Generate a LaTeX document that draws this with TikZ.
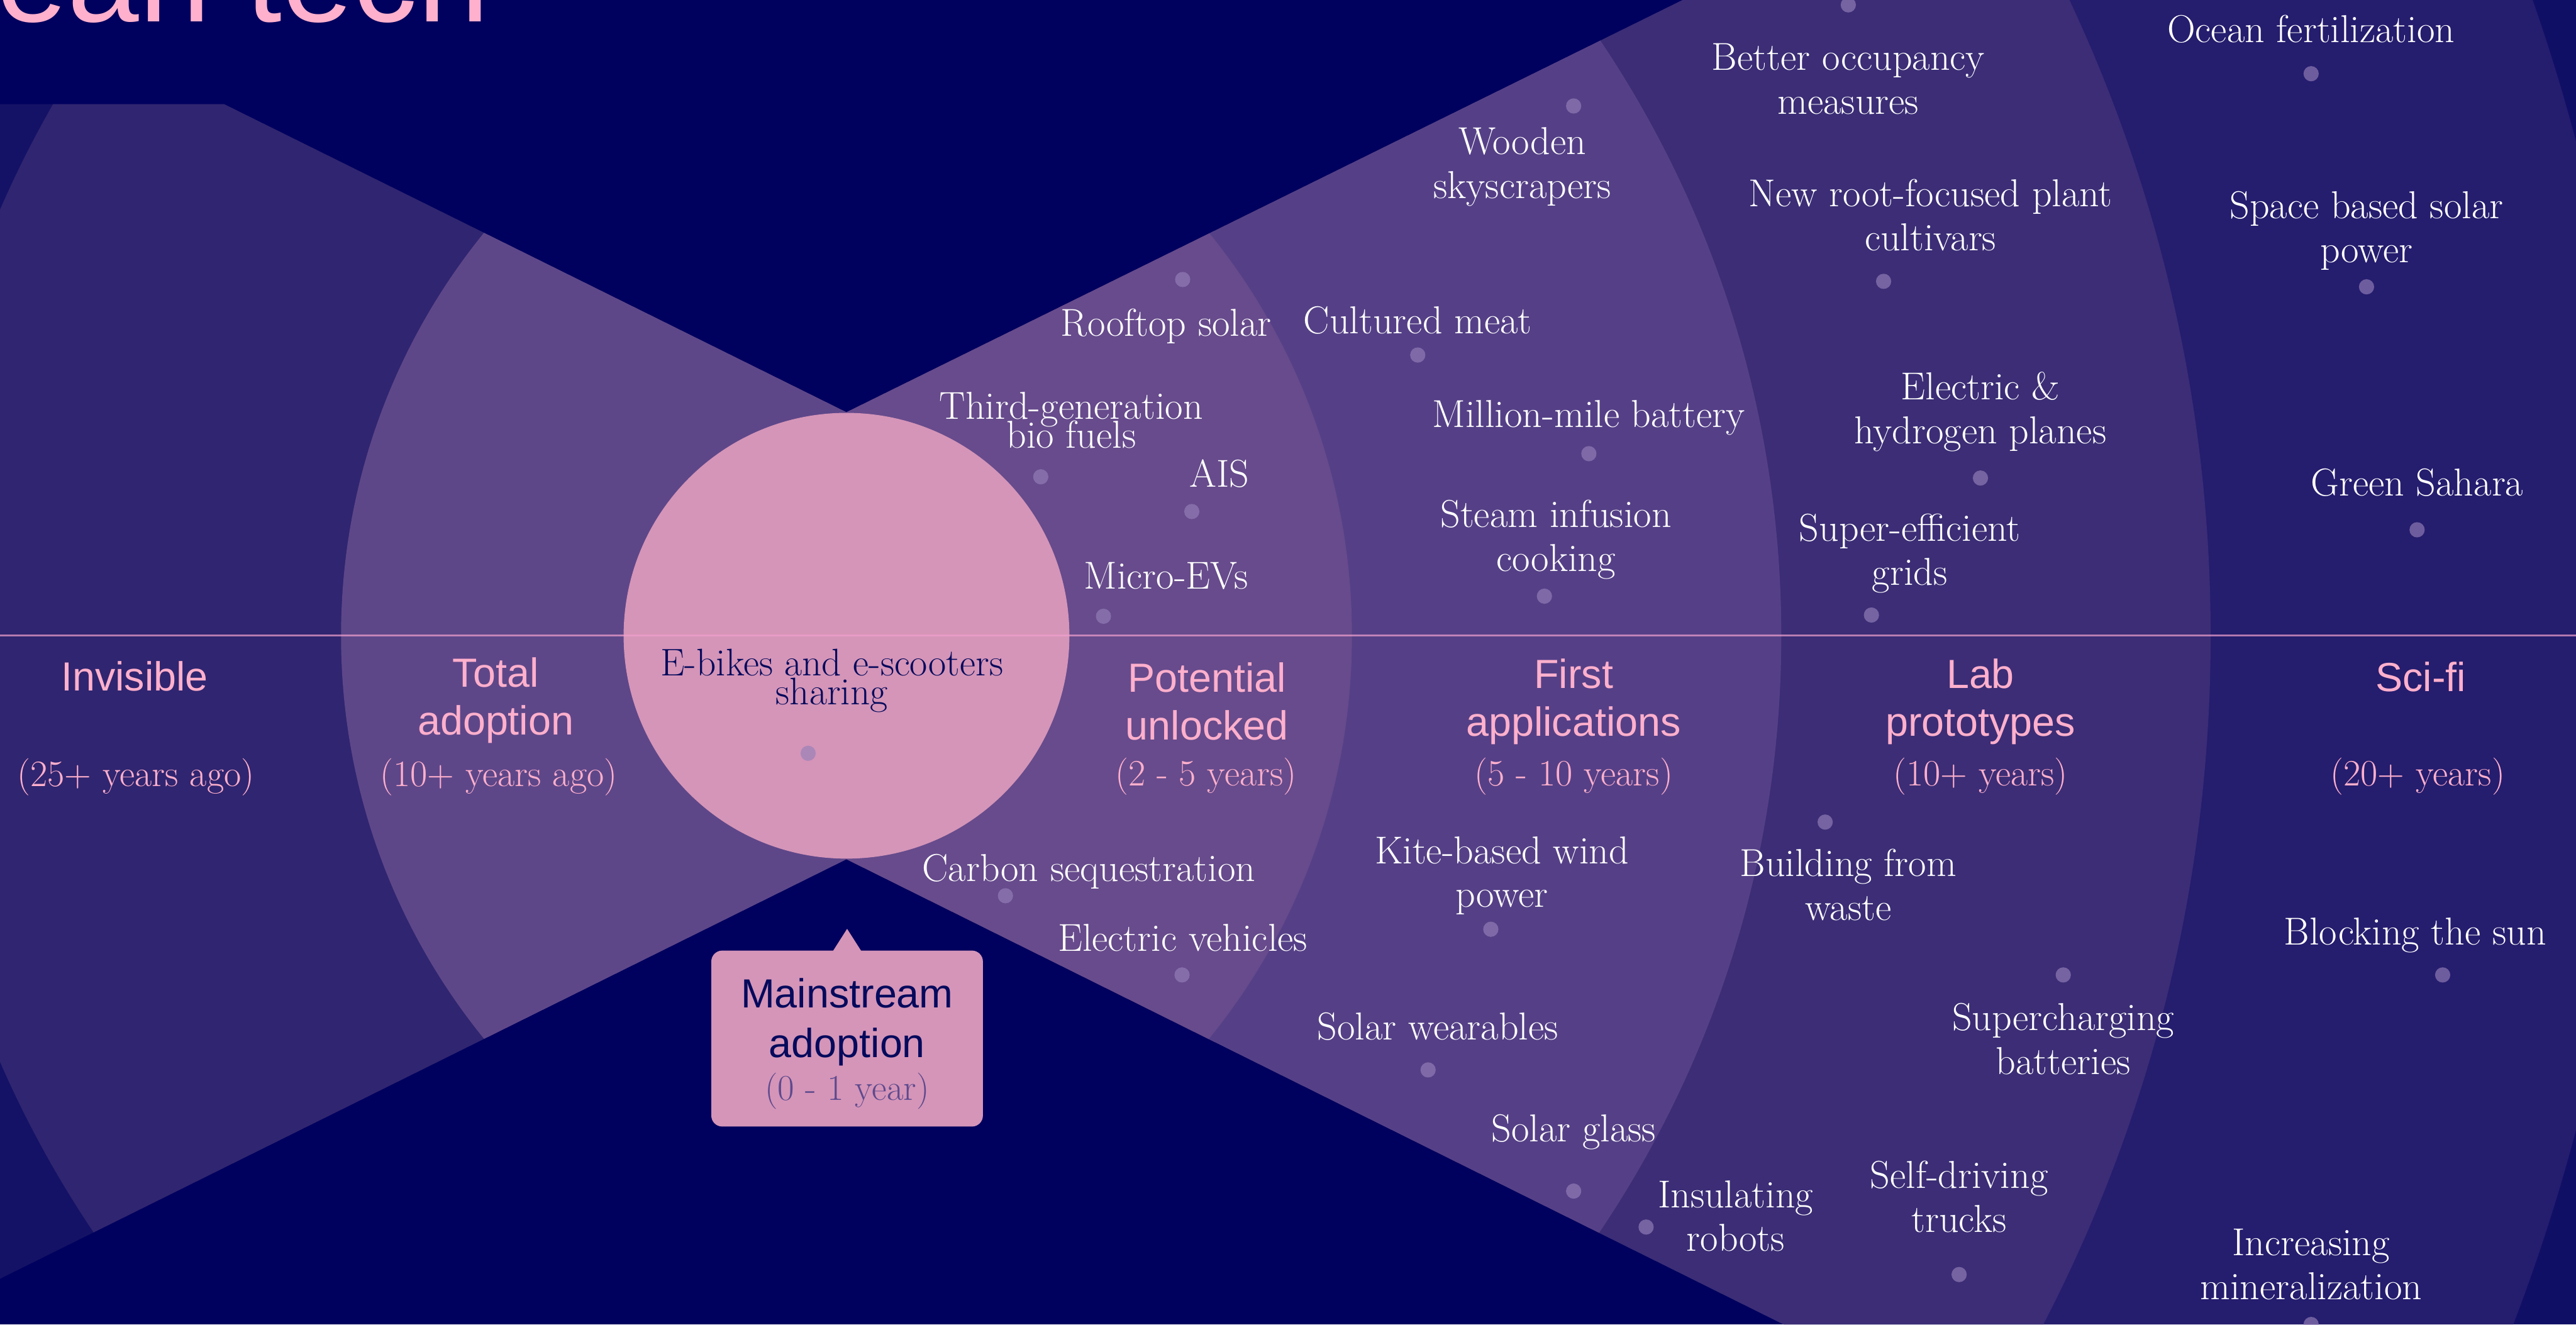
\documentclass[tikz,border=0pt]{standalone}
\usepackage{fontspec}
\setsansfont{Liberation Sans}

\definecolor{deepnavy}{RGB}{0,0,94}
\definecolor{farright}{RGB}{16,15,102}
\definecolor{ringfour}{RGB}{37,29,110}
\definecolor{ringthree}{RGB}{60,45,118}
\definecolor{ringtwo}{RGB}{85,64,135}
\definecolor{ringone}{RGB}{103,75,140}
\definecolor{leftone}{RGB}{94,71,137}
\definecolor{lefttwo}{RGB}{48,37,112}
\definecolor{farleft}{RGB}{20,18,102}
\definecolor{petal}{RGB}{213,149,184}
\definecolor{blush}{RGB}{255,176,204}
\definecolor{ink}{RGB}{5,10,92}
\definecolor{dotlav}{RGB}{150,128,185}
\definecolor{plum}{RGB}{94,74,142}
\definecolor{axispink}{RGB}{240,160,205}

\newcommand{\techfont}{\fontsize{18.2}{20.5}\selectfont\addfontfeatures{FakeBold=0.4}}
\newcommand{\tightfont}{\fontsize{18.2}{13.5}\selectfont\addfontfeatures{FakeBold=0.4}\lineskiplimit=-100pt}
\newcommand{\hubfont}{\fontsize{18}{13.6}\selectfont\addfontfeatures{FakeBold=0.4}\lineskiplimit=-100pt}
\newcommand{\stagefont}{\fontsize{19}{22.4}\sffamily\selectfont}
\newcommand{\calloutfont}{\fontsize{19}{23.3}\sffamily\selectfont}
\newcommand{\horizonfont}{\fontsize{17.4}{20}\rmfamily\selectfont\addfontfeatures{FakeBold=0.4}}
\newcommand{\cornerfont}{\fontsize{17}{19}\rmfamily\selectfont\addfontfeatures{FakeBold=0.4}}
\newcommand{\headfont}{\fontsize{60}{70}\sffamily\selectfont}

\begin{document}
\begin{tikzpicture}[y=-1cm]
	\tikzstyle{tech}=[text=white, font=\techfont, align=center, inner sep=0pt]
	\tikzstyle{techtight}=[tech, font=\tightfont]
	\tikzstyle{techdot}=[circle, fill=dotlav, fill opacity=0.65, minimum size=2.5mm, inner sep=0pt]
	\tikzstyle{stage}=[text=blush, font=\stagefont, align=center, inner sep=0pt]
	\tikzstyle{horizon}=[text=blush, font=\horizonfont, inner sep=0pt]
	\tikzstyle{callout}=[fill=petal, rounded corners=1.8mm, minimum width=44.6mm, minimum height=28.9mm, text=ink, font=\calloutfont, align=center, inner sep=0pt]
	\useasboundingbox (0,0) rectangle (42.30,21.75);
	\fill[deepnavy] (0,0) rectangle (42.30,21.75);
	% funnel with the rings
	\begin{scope}
		\clip (0,1.71) -- (3.68,1.71) -- (13.90,6.77) -- (27.63,0) -- (42.30,0) -- (42.30,21.75) -- (29.29,21.75) -- (13.90,14.11) -- (0,21.00) -- cycle;
		\begin{scope}
			\clip (13.90,0) rectangle (42.30,21.75);
			\fill[farright] (13.90,0) rectangle (42.30,21.75);
			\fill[ringfour] (11.70,10.44) circle (31.65);
			\fill[ringthree] (11.70,10.44) circle (24.60);
			\fill[ringtwo] (11.70,10.44) circle (17.55);
			\fill[ringone] (11.70,10.44) circle (10.50);
		\end{scope}
		\begin{scope}
			\clip (0,0) rectangle (13.90,21.75);
			\fill[farleft] (0,0) rectangle (13.90,21.75);
			\fill[lefttwo] (16.10,10.44) circle (17.55);
			\fill[leftone] (16.10,10.44) circle (10.50);
		\end{scope}
	\end{scope}
	\node[circle, fill=petal, minimum size=73.2mm, inner sep=0pt] (hub) at (13.90,10.44) {};
	\coordinate (west) at (0,10.44);
	\coordinate (east) at (42.30,10.44);
	\draw[axispink, opacity=0.7, line width=0.9pt] (west) -- (east);
	\node[text=blush, font=\headfont, anchor=base east, inner sep=0pt] (headline) at (8.04,0.36) {ean tech};

	% upper half
	\node[tech] (occupancy) at (30.35,1.30) {Better occupancy\\measures};
	\node[techdot] (occupancy-dot) at (30.35,0.08) {};
	\node[tech] (ocean) at (37.95,0.48) {Ocean fertilization};
	\node[techdot] (ocean-dot) at (37.95,1.21) {};
	\node[tech] (wooden) at (25.00,2.74) {Wooden\\skyscrapers};
	\node[techdot] (wooden-dot) at (25.84,1.74) {};
	\node[tech] (roots) at (31.70,3.53) {New root-focused plant\\cultivars};
	\node[techdot] (roots-dot) at (30.93,4.62) {};
	\node[tech] (spacesolar) at (38.86,3.79) {Space based solar\\power};
	\node[techdot] (spacesolar-dot) at (38.86,4.71) {};
	\node[tech] (rooftop) at (19.15,5.36) {Rooftop solar};
	\node[techdot] (rooftop-dot) at (19.42,4.59) {};
	\node[tech] (meat) at (23.28,5.26) {Cultured meat};
	\node[techdot] (meat-dot) at (23.28,5.83) {};
	\node[techtight] (biofuels) at (17.59,6.90) {Third-generation\\bio fuels};
	\node[techdot] (biofuels-dot) at (17.09,7.83) {};
	\node[tech] (battery) at (26.09,6.86) {Million-mile battery};
	\node[techdot] (battery-dot) at (26.09,7.45) {};
	\node[tech] (planes) at (32.52,6.76) {Electric \&\\hydrogen planes};
	\node[techdot] (planes-dot) at (32.52,7.85) {};
	\node[tech] (sahara) at (39.69,7.92) {Green Sahara};
	\node[techdot] (sahara-dot) at (39.69,8.70) {};
	\node[tech] (ais) at (20.02,7.78) {AIS};
	\node[techdot] (ais-dot) at (19.57,8.40) {};
	\node[tech] (steam) at (25.55,8.86) {Steam infusion\\cooking};
	\node[techdot] (steam-dot) at (25.36,9.79) {};
	\node[tech] (grids) at (31.36,9.09) {Super-efficient\\grids};
	\node[techdot] (grids-dot) at (30.73,10.10) {};
	\node[tech] (microev) at (19.15,9.46) {Micro-EVs};
	\node[techdot] (microev-dot) at (18.12,10.12) {};

	% stages
	\node[stage] (invisible) at (2.21,11.11) {Invisible};
	\node[horizon] (invisible-years) at (2.23,12.76) {(25+ years ago)};
	\node[stage] (total) at (8.14,11.50) {Total\\adoption};
	\node[horizon] (total-years) at (8.19,12.76) {(10+ years ago)};
	\node[stage] (potential) at (19.82,11.52) {Potential\\unlocked};
	\node[horizon] (potential-years) at (19.80,12.75) {(2 - 5 years)};
	\node[stage] (first) at (25.84,11.52) {First\\applications};
	\node[horizon] (first-years) at (25.84,12.75) {(5 - 10 years)};
	\node[stage] (lab) at (32.52,11.52) {Lab\\prototypes};
	\node[horizon] (lab-years) at (32.52,12.75) {(10+ years)};
	\node[stage] (scifi) at (39.75,11.12) {Sci-fi};
	\node[horizon] (scifi-years) at (39.70,12.75) {(20+ years)};

	\node[tech, text=ink, font=\hubfont] (ebikes) at (13.66,11.18) {E-bikes and e-scooters\\sharing};
	\node[techdot] (ebikes-dot) at (13.27,12.37) {};

	% lower half
	\node[tech] (carbon) at (17.88,14.31) {Carbon sequestration};
	\node[techdot] (carbon-dot) at (16.51,14.71) {};
	\node[tech] (kite) at (24.66,14.38) {Kite-based wind\\power};
	\node[techdot] (kite-dot) at (24.48,15.26) {};
	\node[tech] (waste) at (30.35,14.53) {Building from\\waste};
	\node[techdot] (waste-dot) at (29.97,13.50) {};
	\node[tech] (ev) at (19.42,15.40) {Electric vehicles};
	\node[techdot] (ev-dot) at (19.41,16.01) {};
	\node[tech] (sun) at (39.66,15.36) {Blocking the sun};
	\node[techdot] (sun-dot) at (40.11,16.01) {};
	\node[tech] (supercharge) at (33.88,17.06) {Supercharging\\batteries};
	\node[techdot] (supercharge-dot) at (33.88,16.01) {};
	\node[tech] (wearables) at (23.61,16.86) {Solar wearables};
	\node[techdot] (wearables-dot) at (23.45,17.57) {};
	\node[tech] (glass) at (25.84,18.59) {Solar glass};
	\node[techdot] (glass-dot) at (25.84,19.56) {};
	\node[tech] (robots) at (28.50,19.97) {Insulating\\robots};
	\node[techdot] (robots-dot) at (27.03,20.15) {};
	\node[tech] (trucks) at (32.17,19.65) {Self-driving\\trucks};
	\node[techdot] (trucks-dot) at (32.17,20.93) {};
	\node[tech] (mineral) at (37.95,20.76) {Increasing\\mineralization};
	\node[techdot] (mineral-dot) at (37.95,21.75) {};

	% mainstream callout
	\node[callout] (mainstream) at (13.91,17.055) {\rule{0pt}{18.5pt}Mainstream\\adoption\\[-3.5pt]{\cornerfont\color{plum}(0 - 1 year)}};
	\fill[petal] ([xshift=-2.55mm,yshift=-0.5mm]mainstream.north) -- ([yshift=3.5mm]mainstream.north) -- ([xshift=2.55mm,yshift=-0.5mm]mainstream.north) -- cycle;
\end{tikzpicture}
\end{document}
